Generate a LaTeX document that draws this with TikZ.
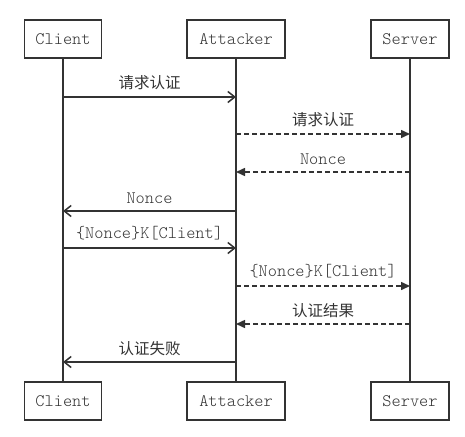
\documentclass[tikz,border=0pt]{standalone}
\usepackage{fontspec}
\setmonofont{Latin Modern Mono Light}
\newfontfamily\cjk{Noto Sans CJK SC}
\usetikzlibrary{arrows.meta}
\definecolor{ink}{HTML}{333333}
\begin{document}
\begin{tikzpicture}[x=1pt,y=-1pt,
  actor/.style={draw=ink, line width=1.5pt, fill=white, minimum height=38pt, inner sep=0, font=\fontsize{17.5}{20}\selectfont\ttfamily, text=ink},
  life/.style={draw=ink, line width=1.8pt},
  sync/.style={draw=ink, line width=1.5pt, -{Straight Barb[length=7pt,width=11pt,line width=1.5pt]}},
  reply/.style={draw=ink, line width=1.5pt, dash pattern=on 5pt off 3pt, -{Triangle[length=9pt,width=8pt]}},
  mlbl/.style={midway, above=7pt, inner sep=0, text=ink, font=\fontsize{17.5}{20}\selectfont\ttfamily},
  hlbl/.style={midway, above=6pt, inner sep=0, text=ink, font=\fontsize{15.5}{18}\selectfont\cjk}
]
\useasboundingbox (0,0) rectangle (465,436);
% actors
\node[actor, minimum width=77pt] (ct) at (63,39) {Client};
\node[actor, minimum width=98pt] (at) at (236,39) {Attacker};
\node[actor, minimum width=78pt] (st) at (410,39) {Server};
\node[actor, minimum width=77pt] (cb) at (63,401) {Client};
\node[actor, minimum width=98pt] (ab) at (236,401) {Attacker};
\node[actor, minimum width=78pt] (sb) at (410,401) {Server};
% lifelines
\draw[life] (ct) -- (cb);
\draw[life] (at) -- (ab);
\draw[life] (st) -- (sb);
% message points
\coordinate (c1) at (63,97);  \coordinate (a1) at (236,97);
\coordinate (a2) at (236,134);  \coordinate (s2) at (410,134);
\coordinate (s3) at (410,172);  \coordinate (a3) at (236,172);
\coordinate (a4) at (236,211);  \coordinate (c4) at (63,211);
\coordinate (c5) at (63,248); \coordinate (a5) at (236,248);
\coordinate (a6) at (236,286);  \coordinate (s6) at (410,286);
\coordinate (s7) at (410,324);  \coordinate (a7) at (236,324);
\coordinate (a8) at (236,362);  \coordinate (c8) at (63,362);
% messages
\draw[sync]  (c1) -- (a1) node[hlbl] {请求认证};
\draw[reply] (a2) -- (s2) node[hlbl] {请求认证};
\draw[reply] (s3) -- (a3) node[mlbl] {Nonce};
\draw[sync]  (a4) -- (c4) node[mlbl] {Nonce};
\draw[sync]  (c5) -- (a5) node[mlbl] {\{Nonce\}K[Client]};
\draw[reply] (a6) -- (s6) node[mlbl] {\{Nonce\}K[Client]};
\draw[reply] (s7) -- (a7) node[hlbl] {认证结果};
\draw[sync]  (a8) -- (c8) node[hlbl] {认证失败};
\end{tikzpicture}
\end{document}
